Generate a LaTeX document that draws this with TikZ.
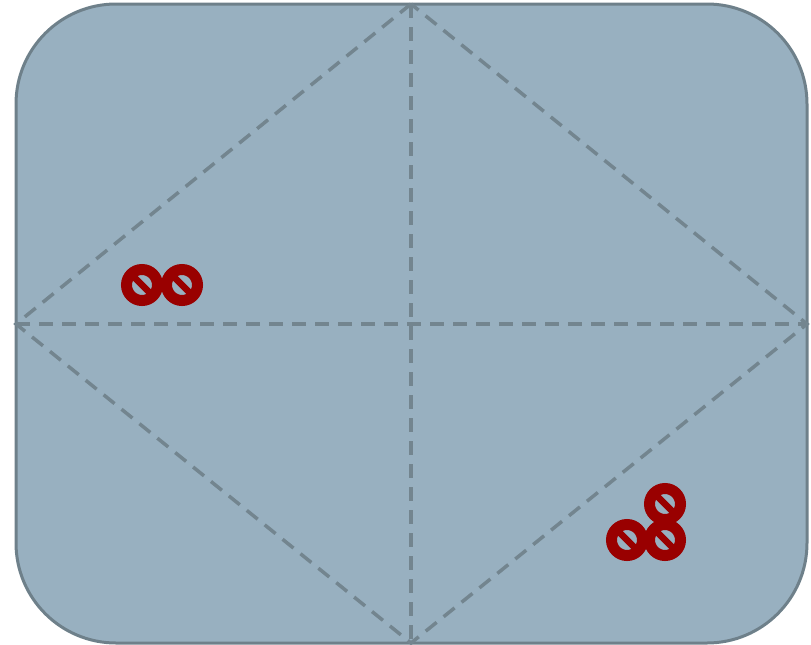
\documentclass[tikz,border=0pt]{standalone}
\definecolor{panelfill}{RGB}{152,176,192}
\definecolor{paneledge}{RGB}{110,128,138}
\definecolor{guidecol}{RGB}{115,133,143}
\definecolor{ringred}{RGB}{153,0,0}
\begin{document}
\begin{tikzpicture}[x=1pt,y=-1pt,
  panel/.style={fill=panelfill,draw=paneledge,line width=3pt,rounded corners=100pt},
  guide/.style={draw=guidecol,line width=3.5pt,dash pattern=on 14pt off 9pt},
  noring/.style={circle,minimum size=31pt,inner sep=0pt,draw=ringred,line width=11pt,
    path picture={\draw[ringred,line width=6.5pt] ([shift={(-12pt,12pt)}]path picture bounding box.center) -- ([shift={(12pt,-12pt)}]path picture bounding box.center);}}]
\useasboundingbox (0,0) rectangle (811,645);
\draw[panel] (16,4) rectangle (807,643);
\coordinate (T) at (411,4);
\coordinate (B) at (411,643);
\coordinate (L) at (16,324);
\coordinate (R) at (807,324);
\draw[guide] (T) -- (B);
\draw[guide] (L) -- (R);
\draw[guide] (T) -- (L) -- (B) -- (R) -- cycle;
\node[noring] (a1) at (142,285) {};
\node[noring] (a2) at (182,285) {};
\node[noring] (b1) at (665,504) {};
\node[noring] (b2) at (627,540) {};
\node[noring] (b3) at (665,540) {};
\end{tikzpicture}
\end{document}
